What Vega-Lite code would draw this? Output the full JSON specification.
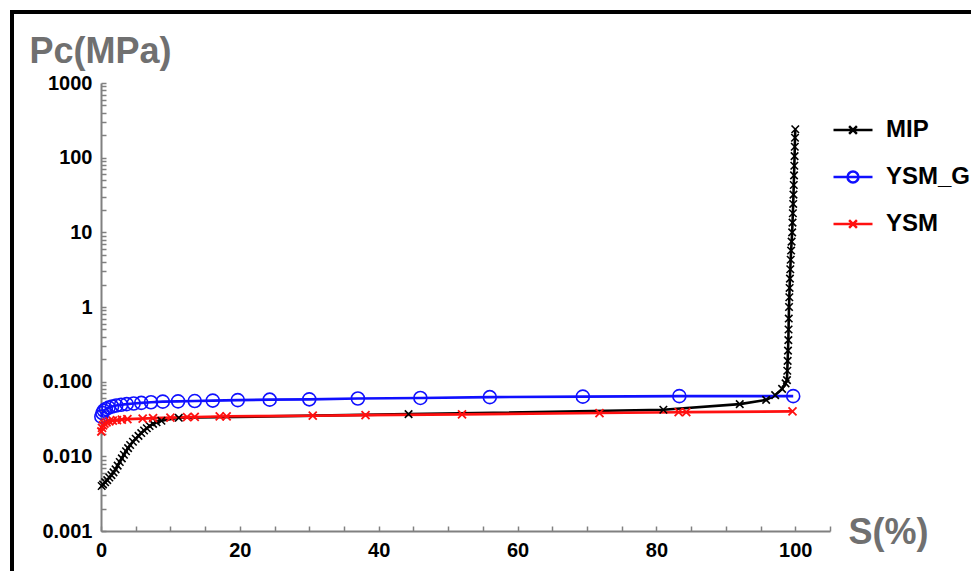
{
  "$schema": "https://vega.github.io/schema/vega-lite/v6.json",
  "width": 959,
  "height": 559,
  "autosize": {"type": "none"},
  "padding": {"left": 12, "top": 12, "right": 0, "bottom": 0},
  "background": "white",
  "view": {"stroke": "black", "strokeWidth": 4, "strokeDash": [959, 1518, 559], "fill": "white"},
  "data": {
    "values": [
      {"Series": "MIP", "S": 0.1, "Pc": 0.0040},
      {"Series": "MIP", "S": 0.3, "Pc": 0.0042},
      {"Series": "MIP", "S": 0.6, "Pc": 0.0045},
      {"Series": "MIP", "S": 0.9, "Pc": 0.0048},
      {"Series": "MIP", "S": 1.2, "Pc": 0.0052},
      {"Series": "MIP", "S": 1.5, "Pc": 0.0056},
      {"Series": "MIP", "S": 1.8, "Pc": 0.0061},
      {"Series": "MIP", "S": 2.1, "Pc": 0.0067},
      {"Series": "MIP", "S": 2.4, "Pc": 0.0075},
      {"Series": "MIP", "S": 2.7, "Pc": 0.0084},
      {"Series": "MIP", "S": 3.0, "Pc": 0.0094},
      {"Series": "MIP", "S": 3.3, "Pc": 0.0105},
      {"Series": "MIP", "S": 3.6, "Pc": 0.0117},
      {"Series": "MIP", "S": 3.9, "Pc": 0.0129},
      {"Series": "MIP", "S": 4.2, "Pc": 0.0142},
      {"Series": "MIP", "S": 4.6, "Pc": 0.0157},
      {"Series": "MIP", "S": 5.0, "Pc": 0.0172},
      {"Series": "MIP", "S": 5.4, "Pc": 0.0188},
      {"Series": "MIP", "S": 5.8, "Pc": 0.0205},
      {"Series": "MIP", "S": 6.2, "Pc": 0.0222},
      {"Series": "MIP", "S": 6.6, "Pc": 0.0238},
      {"Series": "MIP", "S": 7.0, "Pc": 0.0255},
      {"Series": "MIP", "S": 7.5, "Pc": 0.0272},
      {"Series": "MIP", "S": 8.0, "Pc": 0.0286},
      {"Series": "MIP", "S": 8.7, "Pc": 0.0300},
      {"Series": "MIP", "S": 11.2, "Pc": 0.0328},
      {"Series": "MIP", "S": 44.3, "Pc": 0.0367},
      {"Series": "MIP", "S": 81.0, "Pc": 0.0420},
      {"Series": "MIP", "S": 92.0, "Pc": 0.0500},
      {"Series": "MIP", "S": 95.8, "Pc": 0.0570},
      {"Series": "MIP", "S": 97.1, "Pc": 0.0660},
      {"Series": "MIP", "S": 98.1, "Pc": 0.0800},
      {"Series": "MIP", "S": 98.6, "Pc": 0.0950},
      {"Series": "MIP", "S": 98.8, "Pc": 0.105},
      {"Series": "MIP", "S": 98.85, "Pc": 0.14},
      {"Series": "MIP", "S": 98.9, "Pc": 0.19},
      {"Series": "MIP", "S": 98.95, "Pc": 0.26},
      {"Series": "MIP", "S": 99.0, "Pc": 0.36},
      {"Series": "MIP", "S": 99.03, "Pc": 0.5},
      {"Series": "MIP", "S": 99.06, "Pc": 0.7},
      {"Series": "MIP", "S": 99.1, "Pc": 1.0},
      {"Series": "MIP", "S": 99.14, "Pc": 1.35},
      {"Series": "MIP", "S": 99.18, "Pc": 1.8},
      {"Series": "MIP", "S": 99.23, "Pc": 2.4},
      {"Series": "MIP", "S": 99.28, "Pc": 3.2},
      {"Series": "MIP", "S": 99.34, "Pc": 4.3},
      {"Series": "MIP", "S": 99.4, "Pc": 5.7},
      {"Series": "MIP", "S": 99.47, "Pc": 7.5},
      {"Series": "MIP", "S": 99.55, "Pc": 10},
      {"Series": "MIP", "S": 99.6, "Pc": 13.5},
      {"Series": "MIP", "S": 99.65, "Pc": 18},
      {"Series": "MIP", "S": 99.7, "Pc": 24},
      {"Series": "MIP", "S": 99.74, "Pc": 32},
      {"Series": "MIP", "S": 99.78, "Pc": 43},
      {"Series": "MIP", "S": 99.82, "Pc": 58},
      {"Series": "MIP", "S": 99.86, "Pc": 78},
      {"Series": "MIP", "S": 99.9, "Pc": 105},
      {"Series": "MIP", "S": 99.93, "Pc": 140},
      {"Series": "MIP", "S": 99.96, "Pc": 185},
      {"Series": "MIP", "S": 100.0, "Pc": 240},
      {"Series": "YSM_G", "S": 0.05, "Pc": 0.034},
      {"Series": "YSM_G", "S": 0.2, "Pc": 0.038},
      {"Series": "YSM_G", "S": 0.4, "Pc": 0.041},
      {"Series": "YSM_G", "S": 0.7, "Pc": 0.043},
      {"Series": "YSM_G", "S": 1.1, "Pc": 0.045},
      {"Series": "YSM_G", "S": 1.6, "Pc": 0.0465},
      {"Series": "YSM_G", "S": 2.2, "Pc": 0.048},
      {"Series": "YSM_G", "S": 2.9, "Pc": 0.049},
      {"Series": "YSM_G", "S": 3.7, "Pc": 0.050},
      {"Series": "YSM_G", "S": 4.7, "Pc": 0.051},
      {"Series": "YSM_G", "S": 5.8, "Pc": 0.052},
      {"Series": "YSM_G", "S": 7.2, "Pc": 0.053},
      {"Series": "YSM_G", "S": 8.9, "Pc": 0.054},
      {"Series": "YSM_G", "S": 11.1, "Pc": 0.0545},
      {"Series": "YSM_G", "S": 13.5, "Pc": 0.055},
      {"Series": "YSM_G", "S": 16.1, "Pc": 0.0558},
      {"Series": "YSM_G", "S": 19.7, "Pc": 0.0566},
      {"Series": "YSM_G", "S": 24.3, "Pc": 0.0574},
      {"Series": "YSM_G", "S": 30.0, "Pc": 0.058},
      {"Series": "YSM_G", "S": 37.0, "Pc": 0.0595},
      {"Series": "YSM_G", "S": 46.0, "Pc": 0.0605},
      {"Series": "YSM_G", "S": 56.0, "Pc": 0.062},
      {"Series": "YSM_G", "S": 69.4, "Pc": 0.063},
      {"Series": "YSM_G", "S": 83.3, "Pc": 0.064},
      {"Series": "YSM_G", "S": 99.7, "Pc": 0.064},
      {"Series": "YSM", "S": 0.05, "Pc": 0.0215},
      {"Series": "YSM", "S": 0.15, "Pc": 0.024},
      {"Series": "YSM", "S": 0.3, "Pc": 0.026},
      {"Series": "YSM", "S": 0.5, "Pc": 0.0275},
      {"Series": "YSM", "S": 0.8, "Pc": 0.0285},
      {"Series": "YSM", "S": 1.2, "Pc": 0.0293},
      {"Series": "YSM", "S": 1.7, "Pc": 0.030},
      {"Series": "YSM", "S": 2.3, "Pc": 0.0305},
      {"Series": "YSM", "S": 3.0, "Pc": 0.031},
      {"Series": "YSM", "S": 3.8, "Pc": 0.0315},
      {"Series": "YSM", "S": 6.0, "Pc": 0.032},
      {"Series": "YSM", "S": 7.5, "Pc": 0.0325},
      {"Series": "YSM", "S": 10.0, "Pc": 0.033},
      {"Series": "YSM", "S": 12.4, "Pc": 0.0335},
      {"Series": "YSM", "S": 13.5, "Pc": 0.0337},
      {"Series": "YSM", "S": 17.1, "Pc": 0.0342},
      {"Series": "YSM", "S": 18.1, "Pc": 0.0344},
      {"Series": "YSM", "S": 30.5, "Pc": 0.0350},
      {"Series": "YSM", "S": 38.1, "Pc": 0.0356},
      {"Series": "YSM", "S": 52.0, "Pc": 0.0365},
      {"Series": "YSM", "S": 71.8, "Pc": 0.0380},
      {"Series": "YSM", "S": 83.2, "Pc": 0.0390},
      {"Series": "YSM", "S": 84.3, "Pc": 0.0391},
      {"Series": "YSM", "S": 99.6, "Pc": 0.0400}
    ]
  },
  "encoding": {
    "x": {
      "field": "S",
      "type": "quantitative",
      "scale": {"domain": [0, 105], "range": [89, 818], "nice": false, "zero": false},
      "axis": {
        "orient": "bottom",
        "offset": -40,
        "values": [0, 5, 10, 15, 20, 25, 30, 35, 40, 45, 50, 55, 60, 65, 70, 75, 80, 85, 90, 95, 100, 105],
        "labelExpr": "datum.value % 20 === 0 ? datum.label : ''",
        "grid": false,
        "domainColor": "#808080",
        "domainWidth": 2,
        "tickColor": "#808080",
        "tickWidth": 1.5,
        "tickSize": -5,
        "labelPadding": 14,
        "labelFont": "Liberation Sans",
        "labelFontWeight": "bold",
        "labelFontSize": 20,
        "labelColor": "black",
        "labelFlush": false,
        "labelOverlap": false,
        "title": "S(%)",
        "titleFont": "Liberation Sans",
        "titleFontWeight": "bold",
        "titleFontSize": 36,
        "titleColor": "#707070",
        "titleAlign": "left",
        "titleBaseline": "alphabetic",
        "titleAngle": 0,
        "titleX": 836,
        "titleY": 12
      }
    },
    "y": {
      "field": "Pc",
      "type": "quantitative",
      "scale": {"type": "log", "domain": [0.001, 1000], "range": [519, 71], "nice": false},
      "axis": {
        "orient": "left",
        "offset": -89,
        "values": [0.001, 0.002, 0.003, 0.004, 0.005, 0.006, 0.007, 0.008, 0.009, 0.01, 0.02, 0.03, 0.04, 0.05, 0.06, 0.07, 0.08, 0.09, 0.1, 0.2, 0.3, 0.4, 0.5, 0.6, 0.7, 0.8, 0.9, 1, 2, 3, 4, 5, 6, 7, 8, 9, 10, 20, 30, 40, 50, 60, 70, 80, 90, 100, 200, 300, 400, 500, 600, 700, 800, 900, 1000],
        "labelExpr": "datum.value === 0.001 ? '0.001' : datum.value === 0.01 ? '0.010' : datum.value === 0.1 ? '0.100' : datum.value === 1 ? '1' : datum.value === 10 ? '10' : datum.value === 100 ? '100' : datum.value === 1000 ? '1000' : ''",
        "grid": false,
        "domainColor": "#808080",
        "domainWidth": 2,
        "tickColor": "#808080",
        "tickWidth": 1.5,
        "tickSize": -5,
        "labelPadding": 14,
        "labelFont": "Liberation Sans",
        "labelFontWeight": "bold",
        "labelFontSize": 20,
        "labelColor": "black",
        "labelOverlap": false,
        "title": "Pc(MPa)",
        "titleFont": "Liberation Sans",
        "titleFontWeight": "bold",
        "titleFontSize": 36,
        "titleColor": "#707070",
        "titleAlign": "left",
        "titleBaseline": "alphabetic",
        "titleAngle": 0,
        "titleX": -72,
        "titleY": 50
      }
    },
    "color": {
      "field": "Series",
      "type": "nominal",
      "scale": {"domain": ["MIP", "YSM_G", "YSM"], "range": ["#000000", "#1010ff", "#ff1010"]},
      "legend": {
        "orient": "none",
        "legendX": 820,
        "legendY": 97,
        "title": null,
        "padding": 0,
        "rowPadding": 14,
        "symbolSize": 1521,
        "symbolStrokeWidth": 2.5,
        "symbolFillColor": "transparent",
        "symbolOpacity": 1,
        "labelOffset": 12,
        "labelFont": "Liberation Sans",
        "labelFontWeight": "bold",
        "labelFontSize": 24,
        "labelColor": "black",
        "encode": {
          "symbols": {
            "update": {
              "shape": {"signal": "datum.value === 'YSM_G' ? 'M-1,0H1M0.28,0A0.28,0.28 0 1 1 -0.28,0A0.28,0.28 0 1 1 0.28,0' : 'M-1,0H1M-0.2,-0.2L0.2,0.2M-0.2,0.2L0.2,-0.2'"},
              "size": {"value": 1521},
              "fill": {"value": "transparent"},
              "strokeWidth": {"value": 2.5},
              "opacity": {"value": 1}
            }
          }
        }
      }
    }
  },
  "layer": [
    {
      "mark": {"type": "line", "strokeWidth": 2.6},
      "encoding": {}
    },
    {
      "transform": [{"filter": "datum.Series === 'MIP'"}],
      "mark": {"type": "point", "filled": false, "strokeWidth": 1.6, "opacity": 1, "shape": "M-1,-1L1,1M-1,1L1,-1", "size": 56}
    },
    {
      "transform": [{"filter": "datum.Series === 'YSM_G'"}],
      "mark": {"type": "point", "filled": false, "strokeWidth": 1.6, "opacity": 1, "shape": "circle", "size": 169}
    },
    {
      "transform": [{"filter": "datum.Series === 'YSM'"}],
      "mark": {"type": "point", "filled": false, "strokeWidth": 1.8, "opacity": 1, "shape": "M-1,-1L1,1M-1,1L1,-1", "size": 64}
    }
  ]
}
